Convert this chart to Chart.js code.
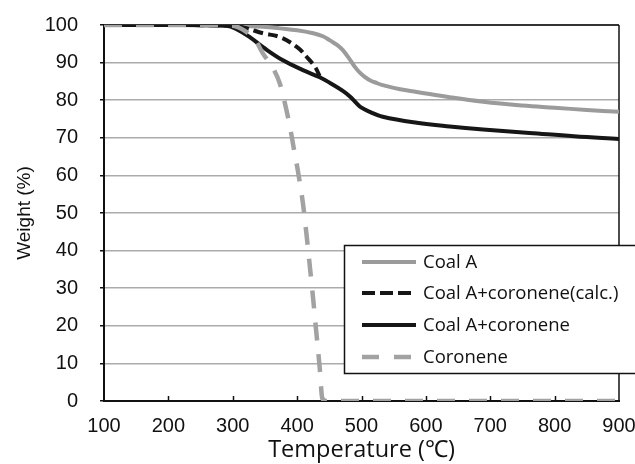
<!DOCTYPE html>
<html lang="en">
<head>
  <meta charset="UTF-8" />
  <title>TG curves</title>
  <script src="https://cdn.jsdelivr.net/npm/chart.js"></script>
  <style>
    html, body { margin: 0; padding: 0; background: #fff; }
    #tg { display: block; }
  </style>
</head>
<body>
<canvas id="tg" width="635" height="464"></canvas>
<script>
  // Values (temperature in °C, weight in %)
  const coalATemp     = [100, 200, 300, 350, 373, 400, 425, 440, 451, 462, 471, 482, 490, 497, 505, 513, 523, 533, 560, 586, 637, 689, 750, 800, 850, 900];
  const coalAWeight   = [100, 100, 99.9, 99.5, 99.1, 98.6, 97.8, 97.0, 95.9, 94.7, 93.3, 90.8, 88.8, 87.4, 86.2, 85.3, 84.6, 84.0, 82.9, 82.2, 80.8, 79.6, 78.6, 78.0, 77.4, 76.9];

  const calcTemp      = [100, 200, 300, 320, 347, 373, 400, 415, 428, 435];
  const calcWeight    = [100, 100, 99.8, 99.2, 97.8, 96.8, 94.1, 91.5, 88.8, 86.4];

  const mixTemp       = [100, 200, 290, 306, 327, 347, 378, 409, 435, 451, 471, 482, 490, 500, 513, 533, 586, 637, 689, 761, 830, 900];
  const mixWeight     = [100, 100, 99.8, 98.9, 96.7, 94.1, 90.6, 88.0, 86.1, 84.6, 82.5, 81.0, 79.6, 78.0, 76.9, 75.6, 74.0, 73.0, 72.2, 71.3, 70.4, 69.7];

  const coroneneTemp  = [100, 200, 300, 320, 335, 347, 362, 373, 381, 389, 395, 401, 409, 415, 420, 425, 429, 435, 439, 445, 500, 600, 700, 800, 900];
  const coroneneWeight= [100, 100, 99.8, 98.3, 96, 92.4, 88.7, 84.5, 79.2, 72.8, 67, 61.4, 52.6, 43.6, 35.4, 27, 19.7, 9, 0.8, 0, 0, 0, 0, 0, 0];

  const xTicks = [100, 200, 300, 400, 500, 600, 700, 800, 900];
  const yTicks = [0, 10, 20, 30, 40, 50, 60, 70, 80, 90, 100];

  const toPoints = (xs, ys) => xs.map((x, i) => ({ x: x, y: ys[i] }));

  // frame, inner x ticks and the boxed legend
  const framePlugin = {
    id: 'frame',
    beforeDatasetsDraw(chart) {
      const { ctx, chartArea: a, scales } = chart;
      ctx.save();
      ctx.strokeStyle = '#333';
      ctx.lineWidth = 2;
      ctx.beginPath();
      ctx.moveTo(a.left, a.top);
      ctx.lineTo(a.right, a.top);
      ctx.stroke();
      ctx.strokeStyle = '#111';
      ctx.lineWidth = 1.5;
      ctx.beginPath();
      ctx.moveTo(a.right, a.top);
      ctx.lineTo(a.right, a.bottom);
      ctx.stroke();
      xTicks.slice(1, -1).forEach(v => {
        const px = Math.round(scales.x.getPixelForValue(v)) + 0.5;
        ctx.beginPath();
        ctx.moveTo(px, a.bottom);
        ctx.lineTo(px, a.bottom - 5);
        ctx.stroke();
      });
      ctx.restore();
    },
    afterDraw(chart) {
      const ctx = chart.ctx;
      const box = { left: 344.5, top: 245.5, right: 640, bottom: 373.5 };
      ctx.save();
      ctx.fillStyle = '#fff';
      ctx.fillRect(box.left, box.top, box.right - box.left, box.bottom - box.top);
      ctx.strokeStyle = '#111';
      ctx.lineWidth = 1.5;
      ctx.strokeRect(box.left, box.top, box.right - box.left, box.bottom - box.top);
      const rows = [262, 293, 325, 357];
      const sampleDash = [[], [13, 5], [], [17, 15]];
      ctx.font = '18.5px "Open Sans", Lato, sans-serif';
      ctx.textBaseline = 'middle';
      chart.data.datasets.forEach((ds, i) => {
        const y = rows[i];
        ctx.strokeStyle = ds.borderColor;
        ctx.lineWidth = ds.borderWidth;
        ctx.setLineDash(sampleDash[i]);
        ctx.beginPath();
        ctx.moveTo(362, y);
        ctx.lineTo(416, y);
        ctx.stroke();
        ctx.setLineDash([]);
        ctx.fillStyle = '#111';
        ctx.fillText(ds.label, 423, y + 1);
      });
      ctx.restore();
    }
  };

  new Chart(document.getElementById('tg').getContext('2d'), {
    type: 'line',
    data: {
      datasets: [
        {
          label: 'Coal A',
          data: toPoints(coalATemp, coalAWeight),
          borderColor: '#9b9b9b',
          borderWidth: 4,
          tension: 0.4,
          pointRadius: 0,
          order: 3
        },
        {
          label: 'Coal A+coronene(calc.)',
          data: toPoints(calcTemp, calcWeight),
          borderColor: '#161616',
          borderWidth: 4,
          borderDash: [10, 5],
          tension: 0.4,
          pointRadius: 0,
          order: 1
        },
        {
          label: 'Coal A+coronene',
          data: toPoints(mixTemp, mixWeight),
          borderColor: '#161616',
          borderWidth: 4,
          tension: 0.4,
          pointRadius: 0,
          order: 2
        },
        {
          label: 'Coronene',
          data: toPoints(coroneneTemp, coroneneWeight),
          borderColor: '#a2a2a2',
          borderWidth: 4.5,
          borderDash: [18, 14],
          cubicInterpolationMode: 'monotone',
          pointRadius: 0,
          order: 0
        }
      ]
    },
    options: {
      responsive: false,
      animation: false,
      layout: { padding: { top: 25, right: 16, left: 0, bottom: 0 } },
      plugins: { legend: { display: false }, tooltip: { enabled: false } },
      scales: {
        x: {
          type: 'linear',
          min: 100,
          max: 900,
          afterBuildTicks: s => { s.ticks = xTicks.map(v => ({ value: v })); },
          afterFit: s => { s.height = 63; s.paddingLeft = 0; s.paddingRight = 0; },
          grid: { display: false, drawTicks: false },
          border: { color: '#111', width: 2 },
          ticks: { color: '#111', padding: 13, maxRotation: 0, font: { family: '"Liberation Sans", Arial', size: 20 } },
          title: {
            display: true,
            text: 'Temperature (℃)',
            color: '#111',
            padding: { top: 0, bottom: 0 },
            font: { family: '"Open Sans", Lato', size: 23.5 }
          }
        },
        y: {
          min: 0,
          max: 100,
          afterBuildTicks: s => { s.ticks = yTicks.map(v => ({ value: v })); },
          afterFit: s => { s.width = 104; s.paddingTop = 0; s.paddingBottom = 0; },
          grid: {
            color: c => (c.tick && (c.tick.value === 0 || c.tick.value === 100)) ? 'rgba(0,0,0,0)' : '#ababab',
            lineWidth: 1.5,
            tickColor: '#111',
            tickLength: 4
          },
          border: { color: '#111', width: 2 },
          ticks: { color: '#111', padding: 22, font: { family: '"Liberation Sans", Arial', size: 20 } },
          title: {
            display: true,
            text: 'Weight (%)',
            color: '#111',
            padding: { top: 13, bottom: 0 },
            font: { family: '"Liberation Sans", Arial', size: 19 }
          }
        }
      }
    },
    plugins: [framePlugin]
  });
</script>
</body>
</html>
